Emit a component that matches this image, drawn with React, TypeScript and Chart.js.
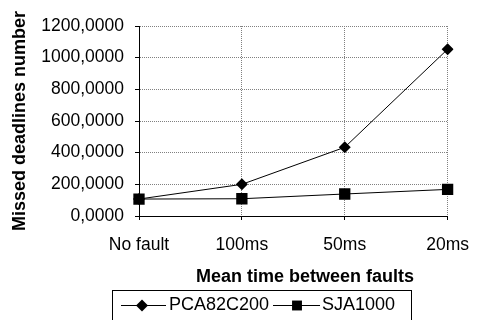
import React, { useEffect, useRef } from "react";
import { Chart, registerables } from "chart.js";

Chart.register(...registerables);

const categories = ["No fault", "100ms", "50ms", "20ms"];
const pcaValues = [107, 200, 434, 1053];
const sjaValues = [107, 109, 139, 168];
const seriesNames = ["PCA82C200", "SJA1000"];
const yTitle = "Missed deadlines number";
const xTitle = "Mean time between faults";

const FONT = "'Liberation Sans', Arial, sans-serif";

const legendPlugin = {
  id: "boxLegend",
  afterDraw(chart: any) {
    const ctx = chart.ctx;
    ctx.save();
    // x-axis title (slightly right of centre, as in the original)
    ctx.fillStyle = "#000";
    ctx.font = `bold 18px ${FONT}`;
    ctx.textAlign = "center";
    ctx.textBaseline = "middle";
    ctx.fillText(xTitle, 305, 277.5);

    ctx.strokeStyle = "#000";
    ctx.lineWidth = 1;
    ctx.strokeRect(112.5, 290.5, 299, 40);
    const y = 305.5;
    const items = [
      { x0: 121, x1: 166, mx: 142, style: "rectRot", r: 6, tx: 169, label: seriesNames[0] },
      { x0: 273, x1: 320, mx: 297, style: "rect", r: 7, tx: 322, label: seriesNames[1] },
    ];
    for (const it of items) {
      ctx.beginPath();
      ctx.moveTo(it.x0, y);
      ctx.lineTo(it.x1, y);
      ctx.strokeStyle = "#000";
      ctx.lineWidth = 1;
      ctx.stroke();
      ctx.fillStyle = "#000";
      ctx.beginPath();
      if (it.style === "rectRot") {
        ctx.moveTo(it.mx - it.r, y);
        ctx.lineTo(it.mx, y - it.r);
        ctx.lineTo(it.mx + it.r, y);
        ctx.lineTo(it.mx, y + it.r);
        ctx.closePath();
      } else {
        const s = it.r * Math.SQRT1_2;
        ctx.rect(it.mx - s, y - s, 2 * s, 2 * s);
      }
      ctx.fill();
      ctx.font = `18px ${FONT}`;
      ctx.textBaseline = "middle";
      ctx.textAlign = "left";
      ctx.fillText(it.label, it.tx, y);
    }
    ctx.restore();
  },
};

export default function App() {
  const ref = useRef<HTMLCanvasElement | null>(null);
  useEffect(() => {
    if (!ref.current) return;
    const chart = new Chart(ref.current, {
      type: "line",
      data: {
        labels: categories,
        datasets: [
          {
            label: seriesNames[0],
            data: pcaValues,
            borderColor: "#000",
            backgroundColor: "#000",
            borderWidth: 1,
            pointStyle: "rectRot",
            pointRadius: 6,
            pointBorderWidth: 0,
            pointBackgroundColor: "#000",
            tension: 0,
          },
          {
            label: seriesNames[1],
            data: sjaValues,
            borderColor: "#000",
            backgroundColor: "#000",
            borderWidth: 1,
            pointStyle: "rect",
            pointRadius: 8,
            pointBorderWidth: 0,
            pointBackgroundColor: "#000",
            tension: 0,
          },
        ],
      },
      options: {
        animation: false,
        responsive: true,
        maintainAspectRatio: false,
        layout: { padding: { left: 0, right: 31, top: 26, bottom: 32 } },
        plugins: {
          legend: { display: false },
          tooltip: { enabled: false },
        },
        scales: {
          x: {
            type: "category",
            offset: false,
            grid: {
              color: "#808080",
              lineWidth: 1,
              tickColor: "#000",
              tickLength: 4,
              drawTicks: true,
            },
            border: { display: true, color: "#000", width: 1, dash: [1, 1] },
            ticks: {
              color: "#000",
              font: { family: FONT, size: 17.5 },
              padding: 15,
              maxRotation: 0,
              autoSkip: false,
            },
            title: { display: false },
            afterFit(scale: any) {
              scale.height = 72;
            },
          },
          y: {
            min: 0,
            max: 1200,
            grid: {
              color: "#808080",
              lineWidth: 1,
              tickColor: "#000",
              tickLength: 4,
              drawTicks: true,
            },
            border: { display: true, color: "#000", width: 1, dash: [1, 1] },
            ticks: {
              stepSize: 200,
              color: "#000",
              font: { family: FONT, size: 17.5 },
              padding: 11,
              callback: (v: any) => Number(v).toFixed(4).replace(".", ","),
            },
            title: {
              display: true,
              text: yTitle,
              color: "#000",
              font: { family: FONT, size: 18, weight: "bold" },
              padding: { top: 9, bottom: 0 },
            },
            afterFit(scale: any) {
              scale.width = 139;
            },
          },
        },
      },
      plugins: [legendPlugin],
    });
    return () => chart.destroy();
  }, []);
  return (
    <div style={{ position: "absolute", left: 0, top: 0, width: 484, height: 320, background: "#fff" }}>
      <canvas ref={ref} />
    </div>
  );
}
